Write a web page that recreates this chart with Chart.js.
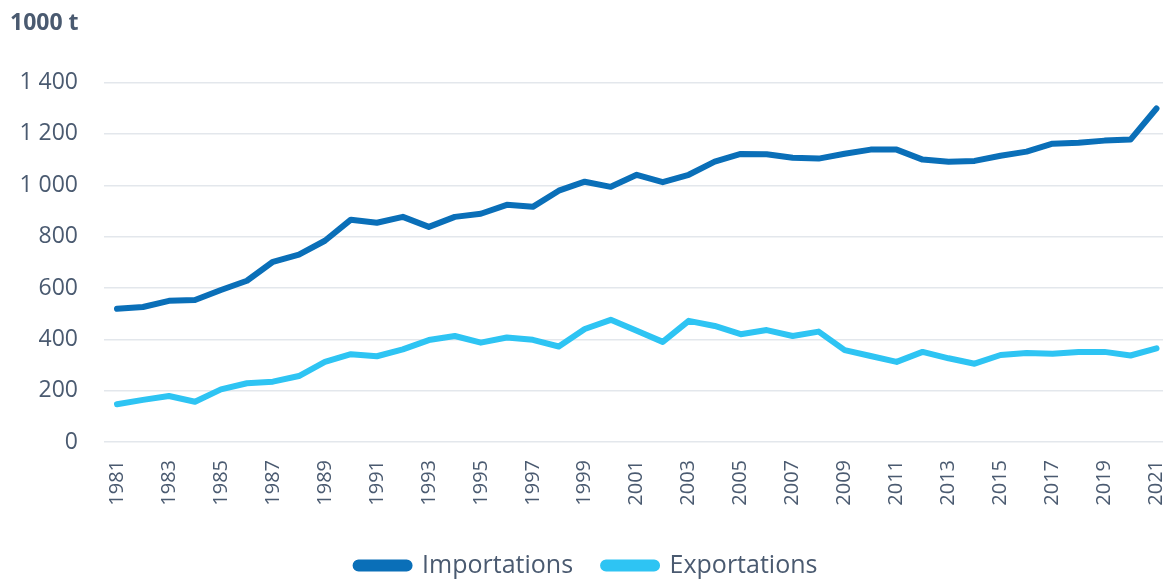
<!DOCTYPE html>
<html>
<head>
<meta charset="utf-8">
<script src="https://cdn.jsdelivr.net/npm/chart.js@4.4.1/dist/chart.umd.min.js"></script>
<style>
  html, body { margin: 0; padding: 0; background: #fff; }
  #wrap { width: 1163px; height: 579px; position: relative; }
</style>
</head>
<body>
<div id="wrap"><canvas id="tradeChart"></canvas></div>
<script>
// Years and series (1000 t)
const years = [1981, 1982, 1983, 1984, 1985, 1986, 1987, 1988, 1989, 1990,
    1991, 1992, 1993, 1994, 1995, 1996, 1997, 1998, 1999, 2000,
    2001, 2002, 2003, 2004, 2005, 2006, 2007, 2008, 2009, 2010,
    2011, 2012, 2013, 2014, 2015, 2016, 2017, 2018, 2019, 2020, 2021];

const importations = [519, 526, 550, 553, 592, 628, 702, 730, 784, 866,
    854, 877, 838, 877, 889, 924, 916, 979, 1014, 994,
    1041, 1012, 1041, 1092, 1122, 1121, 1107, 1104, 1123, 1139,
    1139, 1100, 1092, 1095, 1115, 1131, 1162, 1166, 1174, 1178, 1299];

const exportations = [147, 164, 179, 157, 205, 229, 235, 257, 312, 342,
    334, 361, 397, 413, 387, 407, 398, 372, 440, 476,
    433, 390, 472, 452, 420, 436, 413, 430, 358, 335,
    312, 351, 326, 305, 339, 347, 344, 351, 351, 337, 365];

const xTickYears = years.filter(y => y % 2 === 1);
const yTicks = [0, 200, 400, 600, 800, 1000, 1200, 1400];

const textColor = '#4a5a70';
const gridColor = '#e3e7ec';
const fontFamily = '"Open Sans", Lato, sans-serif';

function toPoints(values) {
    return years.map((yr, i) => ({ x: yr, y: values[i] }));
}

const ctx = document.getElementById('tradeChart').getContext('2d');
new Chart(ctx, {
    type: 'line',
    data: {
        datasets: [{
            label: 'Importations',
            data: toPoints(importations),
            borderColor: '#0a6fb8',
            backgroundColor: '#0a6fb8',
            borderWidth: 6,
            pointRadius: 0,
            tension: 0,
            borderCapStyle: 'round',
            borderJoinStyle: 'round'
        }, {
            label: 'Exportations',
            data: toPoints(exportations),
            borderColor: '#2ec4f3',
            backgroundColor: '#2ec4f3',
            borderWidth: 6,
            pointRadius: 0,
            tension: 0,
            borderCapStyle: 'round',
            borderJoinStyle: 'round'
        }]
    },
    options: {
        responsive: true,
        maintainAspectRatio: false,
        animation: false,
        layout: { padding: { left: 10, right: 0, top: 10, bottom: -9 } },
        scales: {
            x: {
                type: 'linear',
                min: 1980.5,
                max: 2021.25,
                grid: { display: false, drawTicks: false },
                border: { display: false },
                afterBuildTicks: function(scale) {
                    scale.ticks = xTickYears.map(v => ({ value: v }));
                },
                afterFit: function(scale) {
                    scale.paddingLeft = 0;
                    scale.paddingRight = 0;
                    scale.height = 81;
                },
                ticks: {
                    minRotation: 90,
                    maxRotation: 90,
                    autoSkip: false,
                    padding: 18,
                    color: textColor,
                    font: { family: fontFamily, size: 20 },
                    callback: v => String(v)
                }
            },
            y: {
                min: 0,
                max: 1400,
                grid: { color: gridColor, lineWidth: 1.5, drawTicks: false },
                border: { display: false },
                afterBuildTicks: function(scale) {
                    scale.ticks = yTicks.map(v => ({ value: v }));
                },
                afterFit: function(scale) {
                    scale.width = 94;
                },
                ticks: {
                    padding: 26,
                    color: textColor,
                    font: { family: fontFamily, size: 23 },
                    callback: v => String(v).replace(/\B(?=(\d{3})+(?!\d))/g, ' ')
                }
            }
        },
        plugins: {
            title: {
                display: true,
                text: '1000 t',
                align: 'start',
                color: textColor,
                font: { family: fontFamily, size: 23, weight: 'bold' },
                padding: { top: 0, bottom: 45 }
            },
            legend: {
                position: 'bottom',
                labels: {
                    color: textColor,
                    font: { family: fontFamily, size: 25 },
                    boxWidth: 54,
                    boxHeight: 6,
                    useBorderRadius: true,
                    borderRadius: 3,
                    padding: 30
                }
            },
            tooltip: { enabled: false }
        }
    }
});
</script>
</body>
</html>
